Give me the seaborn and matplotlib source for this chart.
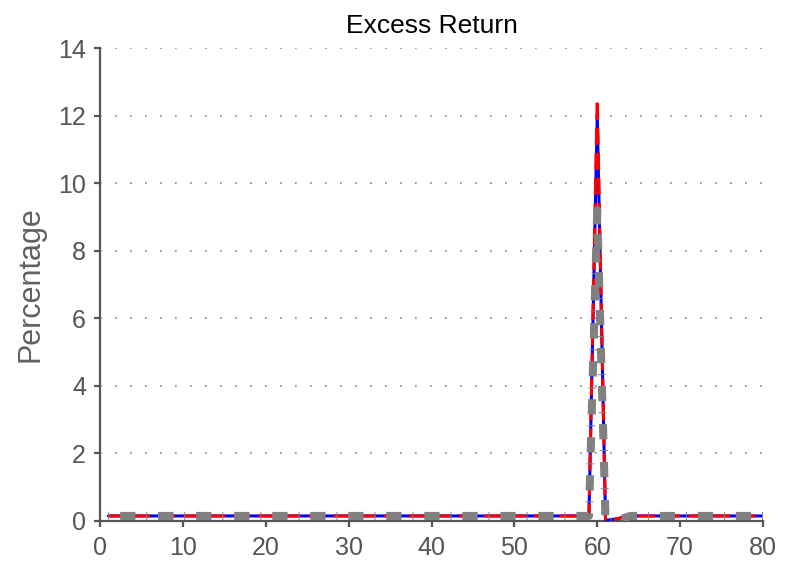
import matplotlib
matplotlib.use("Agg")
import matplotlib.pyplot as plt
import seaborn as sns
import pandas as pd

sns.set_theme(style="white")
plt.rcParams['font.family'] = ['Liberation Sans', 'DejaVu Sans']

# x positions (periods)
periods = list(range(1, 81))

# series values
series_blue = [
    0.15, 0.15, 0.15, 0.15, 0.15, 0.15, 0.15, 0.15, 0.15, 0.15,
    0.15, 0.15, 0.15, 0.15, 0.15, 0.15, 0.15, 0.15, 0.15, 0.15,
    0.15, 0.15, 0.15, 0.15, 0.15, 0.15, 0.15, 0.15, 0.15, 0.15,
    0.15, 0.15, 0.15, 0.15, 0.15, 0.15, 0.15, 0.15, 0.15, 0.15,
    0.15, 0.15, 0.15, 0.15, 0.15, 0.15, 0.15, 0.15, 0.15, 0.15,
    0.15, 0.15, 0.15, 0.15, 0.15, 0.15, 0.15, 0.15, 0.15, 12.0,
    0.02, 0.05, 0.10, 0.15, 0.15, 0.15, 0.15, 0.15, 0.15, 0.15,
    0.15, 0.15, 0.15, 0.15, 0.15, 0.15, 0.15, 0.15, 0.15, 0.15,
]
series_red = [
    0.15, 0.15, 0.15, 0.15, 0.15, 0.15, 0.15, 0.15, 0.15, 0.15,
    0.15, 0.15, 0.15, 0.15, 0.15, 0.15, 0.15, 0.15, 0.15, 0.15,
    0.15, 0.15, 0.15, 0.15, 0.15, 0.15, 0.15, 0.15, 0.15, 0.15,
    0.15, 0.15, 0.15, 0.15, 0.15, 0.15, 0.15, 0.15, 0.15, 0.15,
    0.15, 0.15, 0.15, 0.15, 0.15, 0.15, 0.15, 0.15, 0.15, 0.15,
    0.15, 0.15, 0.15, 0.15, 0.15, 0.15, 0.15, 0.15, 0.15, 12.5,
    0.02, 0.05, 0.10, 0.15, 0.15, 0.15, 0.15, 0.15, 0.15, 0.15,
    0.15, 0.15, 0.15, 0.15, 0.15, 0.15, 0.15, 0.15, 0.15, 0.15,
]
series_grey = [
    0.15, 0.15, 0.15, 0.15, 0.15, 0.15, 0.15, 0.15, 0.15, 0.15,
    0.15, 0.15, 0.15, 0.15, 0.15, 0.15, 0.15, 0.15, 0.15, 0.15,
    0.15, 0.15, 0.15, 0.15, 0.15, 0.15, 0.15, 0.15, 0.15, 0.15,
    0.15, 0.15, 0.15, 0.15, 0.15, 0.15, 0.15, 0.15, 0.15, 0.15,
    0.15, 0.15, 0.15, 0.15, 0.15, 0.15, 0.15, 0.15, 0.15, 0.15,
    0.15, 0.15, 0.15, 0.15, 0.15, 0.15, 0.15, 0.15, 0.15, 9.2,
    0.0, 0.0, 0.07, 0.15, 0.15, 0.15, 0.15, 0.15, 0.15, 0.15,
    0.15, 0.15, 0.15, 0.15, 0.15, 0.15, 0.15, 0.15, 0.15, 0.15,
]

x_ticks = [0, 10, 20, 30, 40, 50, 60, 70, 80]
y_ticks = [0, 2, 4, 6, 8, 10, 12, 14]

df = pd.DataFrame({"x": periods, "blue": series_blue, "red": series_red, "grey": series_grey})

fig = plt.figure(figsize=(7.93, 5.71), dpi=100)
ax = fig.add_axes([100 / 793, 1 - 521 / 571, 663 / 793, 473 / 571])

sns.lineplot(data=df, x="x", y="blue", ax=ax, color="#0000ff", linewidth=2.2,
             linestyle="-", zorder=3)
sns.lineplot(data=df, x="x", y="red", ax=ax, color="#ff0000", linewidth=2.2,
             linestyle=(0, (5.5, 2.7)), zorder=4)
sns.lineplot(data=df, x="x", y="grey", ax=ax, color="#808080", linewidth=5.8,
             linestyle=(0, (0.12, 1.35, 1.9, 1.35)), zorder=5)

ax.set_xlim(0, 80)
ax.set_ylim(0, 14)
ax.set_xticks(x_ticks)
ax.set_yticks(y_ticks)
ax.set_xlabel("")
ax.set_ylabel("Percentage", fontsize=22, color="#606060", labelpad=9)
ax.set_title("Excess Return", fontsize=19, color="black", pad=11)

ax.yaxis.grid(True, linestyle=(0, (1, 8)), color="#888888", linewidth=1.2)
ax.xaxis.grid(False)
for s in ["top", "right"]:
    ax.spines[s].set_visible(False)
for s in ["left", "bottom"]:
    ax.spines[s].set_color("#555555")
    ax.spines[s].set_linewidth(1.6)
ax.tick_params(axis="both", direction="out", length=4, width=1.6, color="#555555",
               labelsize=18, labelcolor="#555555", pad=6)
ax.tick_params(axis="x", pad=7)
ax.tick_params(left=True, bottom=True)

fig.savefig("out.png", dpi=100)
